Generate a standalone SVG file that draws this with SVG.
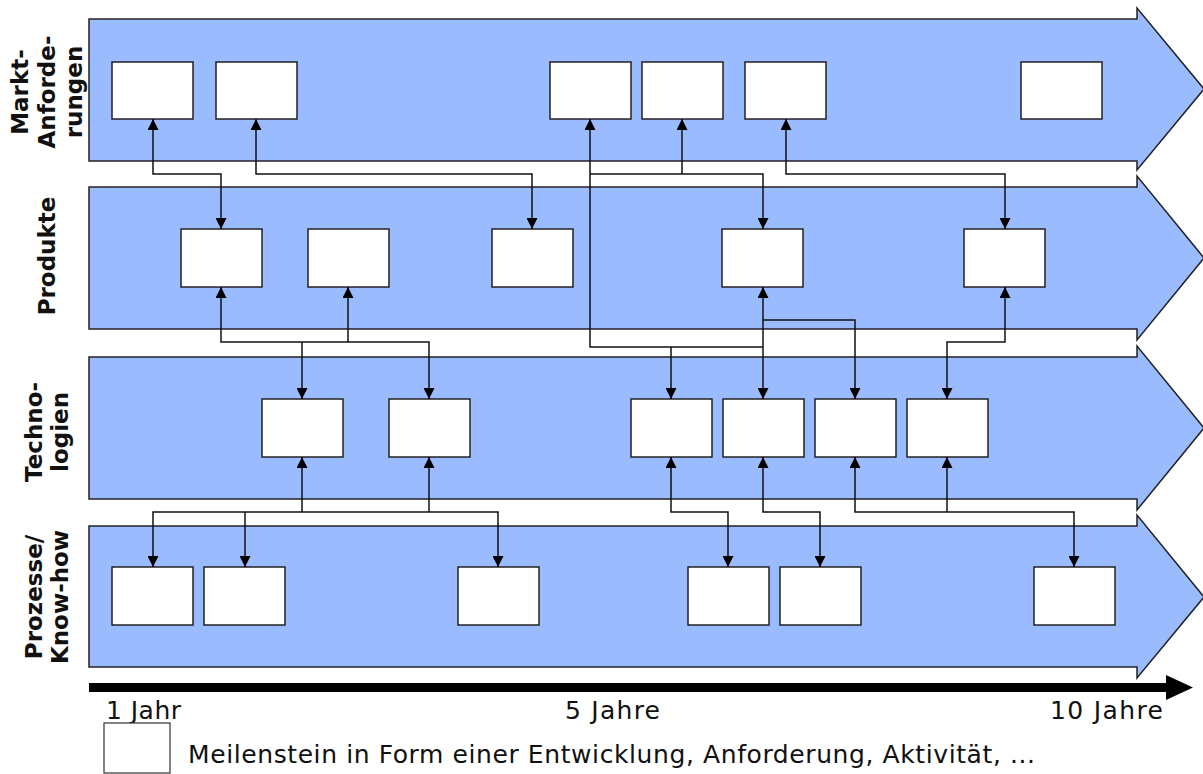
<svg xmlns="http://www.w3.org/2000/svg" width="1203" height="774" viewBox="0 0 1203 774">
  <defs>
    <marker id="tip" viewBox="0 0 10 10" refX="10" refY="5" markerWidth="11" markerHeight="11" markerUnits="userSpaceOnUse" orient="auto-start-reverse">
      <path d="M0,0 L10,5 L0,10 z" fill="#000"/>
    </marker>
  </defs>
  <style>
    .band { fill: #9bbbff; stroke: #222; stroke-width: 1.5; }
    .ms { fill: #fff; stroke: #222; stroke-width: 1.5; }
    .lane { font-family: "DejaVu Sans", "Liberation Sans", sans-serif; font-weight: bold; font-size: 23px; fill: #111; text-anchor: middle; }
    .cap { font-family: "DejaVu Sans", "Liberation Sans", sans-serif; font-size: 25px; fill: #111; }
    .link { fill: none; stroke: #111; stroke-width: 1.5; }
    .arr { marker-start: url(#tip); marker-end: url(#tip); }
    .arrE { marker-end: url(#tip); }
    .arrS { marker-start: url(#tip); }
  </style>

  <rect width="1203" height="774" fill="#fff"/>

  <!-- lane arrows -->
  <g id="lane-markt">
    <path class="band" d="M89,19 H1137 V8 L1204,89 L1137,170 V161 H89 Z"/>
    <text class="lane" transform="translate(28,92) rotate(-90)">Markt-</text>
    <text class="lane" transform="translate(55,92) rotate(-90)">Anforde-</text>
    <text class="lane" transform="translate(82,92) rotate(-90)">rungen</text>
  </g>
  <g id="lane-produkte">
    <path class="band" d="M89,187 H1137 V176 L1204,258 L1137,340 V329 H89 Z"/>
    <text class="lane" transform="translate(55,256) rotate(-90)">Produkte</text>
  </g>
  <g id="lane-technologien">
    <path class="band" d="M89,357 H1137 V346 L1204,428 L1137,510 V499 H89 Z"/>
    <text class="lane" transform="translate(42,432) rotate(-90)">Techno-</text>
    <text class="lane" transform="translate(68,432) rotate(-90)">logien</text>
  </g>
  <g id="lane-prozesse">
    <path class="band" d="M89,526 H1137 V515 L1204,597 L1137,678 V667 H89 Z"/>
    <text class="lane" transform="translate(42,597) rotate(-90)">Prozesse/</text>
    <text class="lane" transform="translate(68,597) rotate(-90)">Know-how</text>
  </g>

  <!-- milestones: market requirements -->
  <g id="m1"><rect class="ms" x="112" y="62" width="81" height="57"/></g>
  <g id="m2"><rect class="ms" x="216" y="62" width="81" height="57"/></g>
  <g id="m3"><rect class="ms" x="550" y="62" width="81" height="57"/></g>
  <g id="m4"><rect class="ms" x="642" y="62" width="81" height="57"/></g>
  <g id="m5"><rect class="ms" x="745" y="62" width="81" height="57"/></g>
  <g id="m6"><rect class="ms" x="1021" y="62" width="81" height="57"/></g>

  <!-- milestones: products -->
  <g id="p1"><rect class="ms" x="181" y="229" width="81" height="58"/></g>
  <g id="p2"><rect class="ms" x="308" y="229" width="81" height="58"/></g>
  <g id="p3"><rect class="ms" x="492" y="229" width="81" height="58"/></g>
  <g id="p4"><rect class="ms" x="722" y="229" width="81" height="58"/></g>
  <g id="p5"><rect class="ms" x="964" y="229" width="81" height="58"/></g>

  <!-- milestones: technologies -->
  <g id="t1"><rect class="ms" x="262" y="399" width="81" height="58"/></g>
  <g id="t2"><rect class="ms" x="389" y="399" width="81" height="58"/></g>
  <g id="t3"><rect class="ms" x="631" y="399" width="81" height="58"/></g>
  <g id="t4"><rect class="ms" x="723" y="399" width="81" height="58"/></g>
  <g id="t5"><rect class="ms" x="815" y="399" width="81" height="58"/></g>
  <g id="t6"><rect class="ms" x="907" y="399" width="81" height="58"/></g>

  <!-- milestones: processes / know-how -->
  <g id="k1"><rect class="ms" x="112" y="567" width="81" height="58"/></g>
  <g id="k2"><rect class="ms" x="204" y="567" width="81" height="58"/></g>
  <g id="k3"><rect class="ms" x="458" y="567" width="81" height="58"/></g>
  <g id="k4"><rect class="ms" x="688" y="567" width="81" height="58"/></g>
  <g id="k5"><rect class="ms" x="780" y="567" width="81" height="58"/></g>
  <g id="k6"><rect class="ms" x="1034" y="567" width="81" height="58"/></g>

  <!-- dependencies -->
  <g id="connectors">
    <!-- market <-> products -->
    <path class="link arr" d="M153,119 V174 H221 V229"/>
    <path class="link arr" d="M256,119 V174 H532 V229"/>
    <path class="link arrS" d="M590,119 V347 H763"/>
    <path class="link arrE" d="M590,174 H763 V229"/>
    <path class="link arrS" d="M682,119 V174"/>
    <path class="link arr" d="M786,119 V174 H1005 V229"/>

    <!-- products <-> technologies -->
    <path class="link arr" d="M221,287 V342 H429 V399"/>
    <path class="link arrS" d="M348,287 V342"/>
    <path class="link arrE" d="M302,342 V399"/>
    <path class="link arrE" d="M671,347 V399"/>
    <path class="link arr" d="M763,287 V399"/>
    <path class="link arrE" d="M763,320 H855 V399"/>
    <path class="link arr" d="M1005,287 V342 H947 V399"/>

    <!-- technologies <-> processes -->
    <path class="link arr" d="M153,567 V512 H498 V567"/>
    <path class="link arrE" d="M245,512 V567"/>
    <path class="link arrS" d="M302,457 V512"/>
    <path class="link arrS" d="M429,457 V512"/>
    <path class="link arr" d="M671,457 V512 H728 V567"/>
    <path class="link arr" d="M763,457 V512 H820 V567"/>
    <path class="link arr" d="M855,457 V512 H1074 V567"/>
    <path class="link arrS" d="M947,457 V512"/>
  </g>

  <!-- time axis -->
  <g id="axis">
    <rect x="89" y="683" width="1080" height="9" fill="#000"/>
    <path d="M1166,675 L1193,687.5 L1166,700 Z" fill="#000"/>
    <text class="cap" x="106" y="719" textLength="75">1 Jahr</text>
    <text class="cap" x="565" y="719" textLength="95">5 Jahre</text>
    <text class="cap" x="1050" y="719" textLength="113">10 Jahre</text>
  </g>

  <!-- legend -->
  <g id="legend">
    <rect x="104" y="723" width="66" height="50" fill="#fff" stroke="#333" stroke-width="1.2"/>
    <text class="cap" x="188" y="763" textLength="847">Meilenstein in Form einer Entwicklung, Anforderung, Aktivität, ...</text>
  </g>
</svg>
